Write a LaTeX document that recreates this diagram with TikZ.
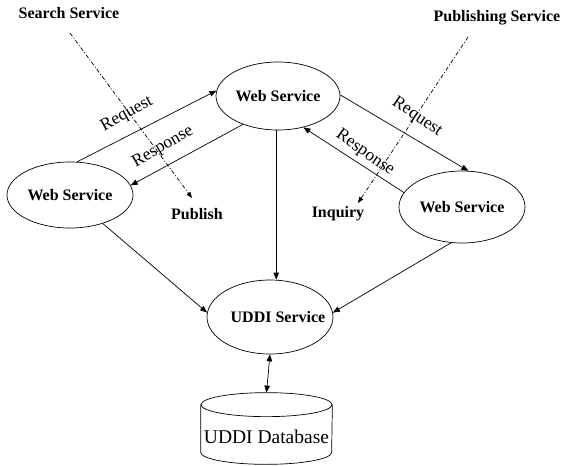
\documentclass[tikz,border=0pt]{standalone}
\usepackage{fontspec}
\setmainfont{Liberation Serif}
\newfontfamily\tnr{Liberation Serif}
\usetikzlibrary{arrows.meta,calc,shapes.geometric}
\begin{document}
\begin{tikzpicture}[x=1pt,y=-1pt,line width=0.7pt,
  bfont/.style={font=\tnr\fontsize{16}{18}\selectfont\bfseries},
  ell/.style={draw, ellipse, inner sep=0pt, bfont},
  lbl/.style={font=\tnr\fontsize{17.5}{19}\selectfont},
  arr/.style={-{Triangle[length=7pt,width=5.5pt]}},
  darr/.style={{Triangle[length=7pt,width=5.5pt]}-{Triangle[length=7pt,width=5.5pt]}},
  dsh/.style={dash pattern=on 4pt off 2pt on 1pt off 2pt, -{Triangle[length=6pt,width=4.5pt]}}]
\useasboundingbox (0,0) rectangle (566,466);

% ellipses
\node[ell, minimum width=124pt, minimum height=68pt] (T) at (278,96) {Web Service};
\node[ell, minimum width=126pt, minimum height=66pt] (L) at (70,195) {Web Service};
\node[ell, minimum width=126pt, minimum height=72pt] (R) at (462,207) {Web Service};
\node[ell, minimum width=126pt, minimum height=74pt, label={[xshift=8pt,bfont]center:UDDI Service}] (U) at (270,317) {};

% database cylinder
\node[minimum width=131pt, minimum height=47pt, inner sep=0pt,
      label={[yshift=-8.5pt,font=\tnr\fontsize{19.5}{21}\selectfont]center:UDDI Database}] (D) at (266.5,428.5) {};
\draw (D.north west) -- (D.south west) arc[start angle=180, end angle=360, x radius=65.5pt, y radius=12pt] -- (D.north east);
\draw (D.north) ellipse[x radius=65.5pt, y radius=12pt];
\coordinate (Dtop) at ($(D.north)+(0,-12)$);

% top texts
\node[bfont] (SS) at (69,13) {Search Service};
\node[bfont] (PS) at (497,18) {Publishing Service};
\node[bfont] (Pub) at (197,214) {Publish};
\node[bfont] (Inq) at (338,214) {Inquiry};

% connectors
\draw[arr] (L.78) -- (T.175);
\draw[arr] (T.219) -- (L.9);
\draw[arr] (T.1) -- (R.80);
\draw[arr] (R.166) -- (T.309);
\draw[arr] (T.267) -- (T.267 |- U.north);
\draw[arr] (L.319) -- (U.176);
\draw[arr] (R.253) -- (U.4);
\draw[darr] (U.south) -- (Dtop);

% dashed lines
\coordinate (s1) at (70,33);
\coordinate (s1e) at (192,198);
\coordinate (s2) at (468,37);
\coordinate (s2e) at (358,203);
\draw[dsh] (s1) -- (s1e);
\draw[dsh] (s2) -- (s2e);

% rotated labels
\node[lbl, rotate=29] (rq1) at (127,114) {Request};
\node[lbl, rotate=30] (rs1) at (163,147) {Response};
\node[lbl, rotate=-34] (rq2) at (417,117) {Request};
\node[lbl, rotate=-35] (rs2) at (365,153) {Response};
\end{tikzpicture}
\end{document}
